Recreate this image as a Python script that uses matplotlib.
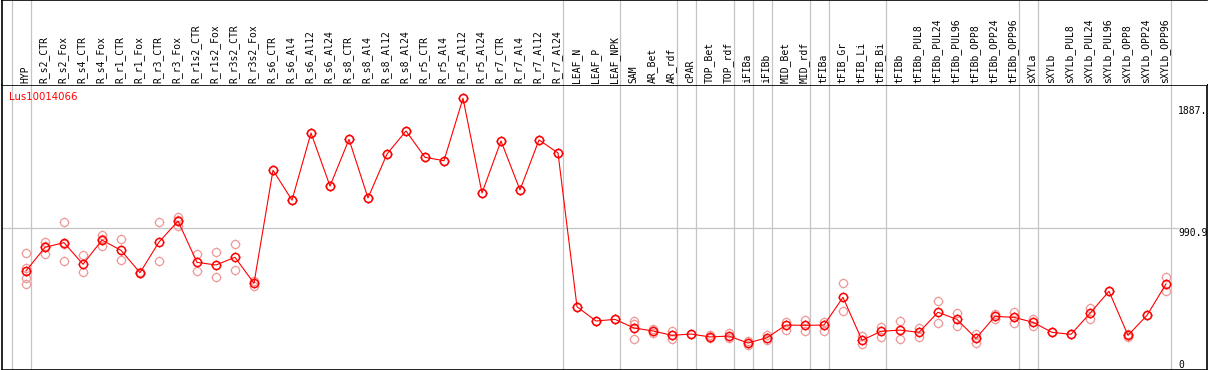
import matplotlib
matplotlib.use("Agg")
import matplotlib.pyplot as plt
from matplotlib.path import Path
import numpy as np

# ---------------- data ----------------
title = "Lus10014066"
samples = ["HYP", "R_s2_CTR", "R_s2_Fox", "R_s4_CTR", "R_s4_Fox", "R_r1_CTR", "R_r1_Fox",
           "R_r3_CTR", "R_r3_Fox", "R_r1s2_CTR", "R_r1s2_Fox", "R_r3s2_CTR", "R_r3s2_Fox",
           "R_s6_CTR", "R_s6_Al4", "R_s6_Al12", "R_s6_Al24",
           "R_s8_CTR", "R_s8_Al4", "R_s8_Al12", "R_s8_Al24",
           "R_r5_CTR", "R_r5_Al4", "R_r5_Al12", "R_r5_Al24",
           "R_r7_CTR", "R_r7_Al4", "R_r7_Al12", "R_r7_Al24",
           "LEAF_N", "LEAF_P", "LEAF_NPK", "SAM", "AR_Bet", "AR_rdf", "cPAR",
           "TOP_Bet", "TOP_rdf", "iFIBa", "iFIBb", "MID_Bet", "MID_rdf", "tFIBa",
           "tFIB_Gr", "tFIB_Li", "tFIB_Bi", "tFIBb", "tFIBb_PUL8", "tFIBb_PUL24",
           "tFIBb_PUL96", "tFIBb_OPP8", "tFIBb_OPP24", "tFIBb_OPP96", "sXYLa", "sXYLb",
           "sXYLb_PUL8", "sXYLb_PUL24", "sXYLb_PUL96", "sXYLb_OPP8", "sXYLb_OPP24",
           "sXYLb_OPP96"]

mean_values = [697, 860, 892, 743, 910, 839, 685, 896, 1041, 756, 738, 791, 612,
               1391, 1185, 1648, 1282, 1604, 1200, 1503, 1662, 1480, 1457, 1887, 1234,
               1593, 1255, 1600, 1510,
               450, 352, 363, 304, 283, 253, 262, 242, 248, 200, 237, 324, 322, 324,
               515, 219, 281, 289, 274, 412, 363, 232, 384, 377, 343, 274, 260, 405,
               557, 253, 391, 607]

replicates = [[818, 719, 646, 605], [896, 814, 868], [1032, 765, 880], [804, 688],
              [945, 869, 915], [915, 770], [690, 680], [1032, 763], [1067, 1048, 1010],
              [811, 694], [825, 653], [880, 703], [630, 593],
              [1391], [1185], [1648], [1282], [1604], [1200], [1503], [1662],
              [1480], [1457], [1887], [1234], [1593], [1255], [1600], [1510],
              [450], [352], [363], [352, 331, 230], [297, 270], [285, 226], [262],
              [252, 232], [267, 237], [212, 184], [255, 221], [347, 290], [359, 285],
              [343, 283], [612, 423], [248, 191], [313, 244], [352, 226], [301, 244],
              [488, 336], [409, 317], [262, 202], [398, 363], [416, 340], [363, 319],
              [274], [260], [444, 368], [557], [262, 244], [391], [655, 557]]

group_sizes = [1, 28, 3, 3, 1, 2, 1, 1, 2, 1, 3, 7, 1, 7]
scale_labels = ["1887.", "990.9", "0"]
midline_value = 990.9

# ---------------- layout ----------------
W, H = 1209, 370
fig = plt.figure(figsize=(W / 100, H / 100), dpi=100)
fig.patch.set_facecolor("white")

col0_px, col_step = 26.0, 19.0
left_px, right_px = 1.5, 1207.0
header_top, header_bot, plot_bot = 0.0, 85.0, 369.5

def px2x(px):
    return (px - col0_px) / col_step

y0_px, k = 372.05, 0.14507  # pixel row of value 0, pixels per unit
def px2v(py):
    return (y0_px - py) / k

ax = fig.add_axes([left_px / W, (H - plot_bot) / H, (right_px - left_px) / W,
                   (plot_bot - header_bot) / H])
hax = fig.add_axes([left_px / W, (H - header_bot) / H, (right_px - left_px) / W,
                    (header_bot - header_top) / H - 0.001])

xlim = (px2x(left_px), px2x(right_px))
ax.set_xlim(*xlim)
ax.set_ylim(px2v(plot_bot), px2v(header_bot))
hax.set_xlim(*xlim)
hax.set_ylim(0, 1)

for a in (ax, hax):
    a.set_xticks([])
    a.set_yticks([])
    a.set_facecolor("white")
    for s in a.spines.values():
        s.set_linewidth(1.2)
        s.set_color("black")
hax.spines["bottom"].set_visible(False)
hax.spines["right"].set_visible(False)

grid_c = "#c4c4c4"
# group separators
bounds = [-1] + list(np.cumsum(group_sizes) - 1)
for b in bounds:
    xb = b + 4.5 / col_step
    ax.axvline(xb, color=grid_c, lw=0.9, zorder=0)
    hax.axvline(xb, color=grid_c, lw=0.9, zorder=0)

# horizontal mid line (ends before the scale label)
ax.axhline(midline_value, xmin=0, xmax=(1178 - left_px) / (right_px - left_px),
           color=grid_c, lw=0.9, zorder=0)

# marker: circle with small ticks
circ = Path.unit_circle()
verts = list(circ.vertices)
codes = list(circ.codes)
for dx, dy in [(0, 1), (0, -1), (1, 0), (-1, 0)]:
    verts += [(dx * 1.0, dy * 1.0), (dx * 1.2, dy * 1.2)]
    codes += [Path.MOVETO, Path.LINETO]
mk = Path(verts, codes)

x = np.arange(len(samples))
# replicates
for i, reps in enumerate(replicates):
    ax.plot([i] * len(reps), reps, linestyle="none", marker=mk, markersize=7.0,
            markerfacecolor="none", markeredgecolor="#ee9a9a", markeredgewidth=0.9,
            zorder=2)
# mean line
ax.plot(x, mean_values, color="#ff0000", lw=0.8, marker=mk, markersize=7.0,
        markerfacecolor="none", markeredgecolor="#ff0000", markeredgewidth=1.1,
        zorder=3)

# sample labels
for i, s in enumerate(samples):
    hax.text(i - 0.05, 2.0 / header_bot, s, rotation=90, ha="center", va="bottom",
             fontsize=7, family="DejaVu Sans Mono", color="black")

# title
fig.text(8.5 / W, 1 - 92 / H, title, color="#ff0000", fontsize=7.3,
         family="DejaVu Sans", ha="left", va="top")

# scale labels
for lab, py in zip(scale_labels, [106.5, 228.0, 359.5]):
    fig.text(1178 / W, 1 - py / H, lab, fontsize=7, family="DejaVu Sans Mono",
             ha="left", va="top", color="black")

fig.savefig("out.png", dpi=100, facecolor="white")
